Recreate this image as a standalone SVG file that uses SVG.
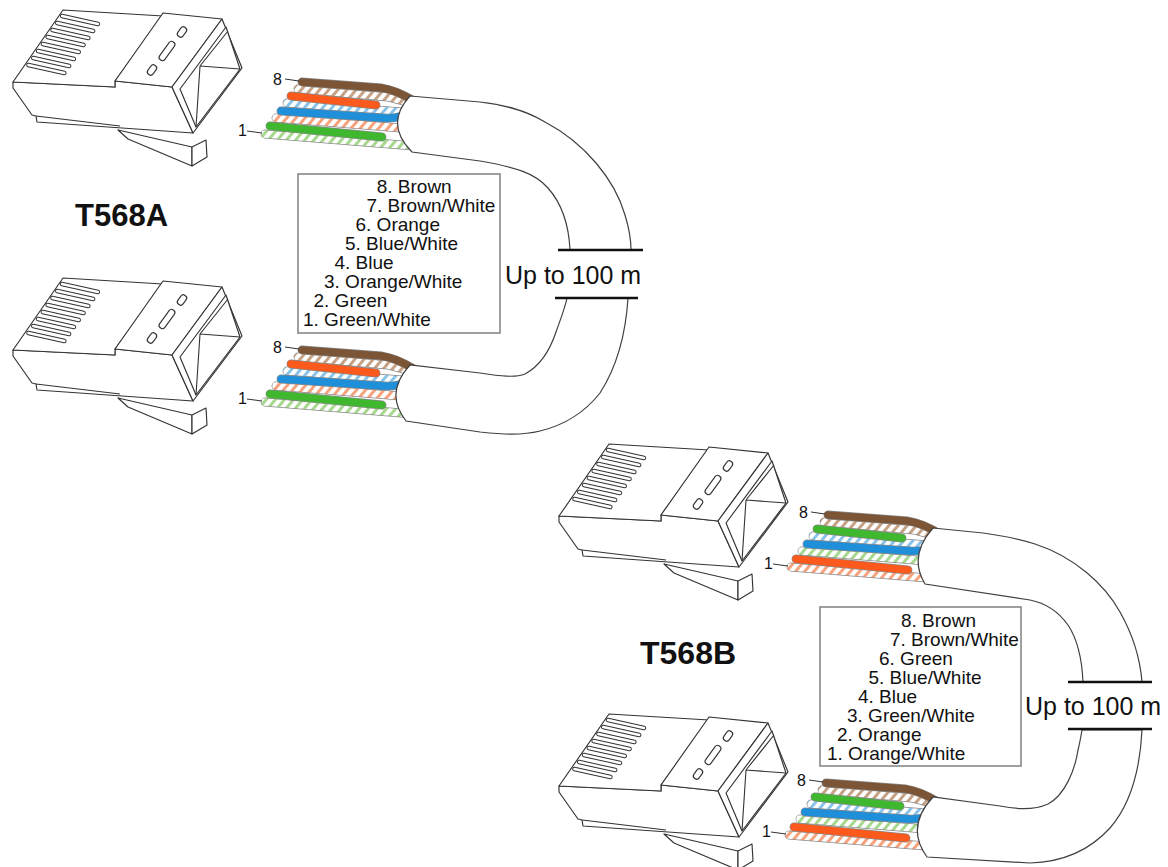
<svg xmlns="http://www.w3.org/2000/svg" xmlns:xlink="http://www.w3.org/1999/xlink" width="1168" height="867" viewBox="0 0 1168 867">
<defs>
<style>
.ln{fill:#fff;stroke:#333;stroke-width:1.15;stroke-linejoin:round}
.nf{fill:none;stroke:#333;stroke-width:1.1;stroke-linejoin:round}
.cab{fill:#fff;stroke:#404040;stroke-width:1.2}
.bar{stroke:#111;stroke-width:2.6}
.ol{fill:none;stroke:#8a8a8a;stroke-width:8.8;stroke-linecap:round;stroke-linejoin:round}
.w{fill:none;stroke-width:7.4;stroke-linecap:round;stroke-linejoin:round}
.br{stroke:#7b5535}.or{stroke:#fb5a1c}.bl{stroke:#1f8fd9}.gr{stroke:#3fb72f}
.bw{stroke:url(#sBr)}.ow{stroke:url(#sOr)}.uw{stroke:url(#sBl)}.gw{stroke:url(#sGr)}
.t{font-family:"Liberation Sans",Arial,sans-serif;fill:#111}
.lg{font-size:19px}
.pn{font-size:16px}
.ttl{font-size:31px;font-weight:bold}
.up{font-size:25px}
.lead{stroke:#333;stroke-width:1}
.box{fill:#fff;stroke:#808080;stroke-width:1.5}
</style>
<pattern id="sBr" width="7" height="7" patternUnits="userSpaceOnUse" patternTransform="rotate(40)"><rect width="7" height="7" fill="#fff"/><rect width="3" height="7" fill="#c6a184"/></pattern>
<pattern id="sOr" width="7" height="7" patternUnits="userSpaceOnUse" patternTransform="rotate(40)"><rect width="7" height="7" fill="#fff"/><rect width="3" height="7" fill="#f6a27c"/></pattern>
<pattern id="sBl" width="7" height="7" patternUnits="userSpaceOnUse" patternTransform="rotate(40)"><rect width="7" height="7" fill="#fff"/><rect width="3" height="7" fill="#8ac3ea"/></pattern>
<pattern id="sGr" width="7" height="7" patternUnits="userSpaceOnUse" patternTransform="rotate(40)"><rect width="7" height="7" fill="#fff"/><rect width="3" height="7" fill="#a6d88e"/></pattern>
<path id="strips" d="M62,16 l36,8 M57.2,23 l36,8 M52.4,30 l36,8 M47.6,37 l36,8 M42.8,44 l36,8 M38,51 l36,8 M33.2,58 l36,8 M28.4,65 l36,8"/>
<g id="plug">
 <path class="ln" d="M118,130 L192,147 L192,166 L128,139 Z"/>
 <path class="ln" d="M192,147 L206,140 L207,157 L192,166 Z"/>
 <path class="ln" d="M13,82 L115,87 L115,81 L172,87 L193,133 L37,122 L36,116 L32,115 L13,88 Z"/>
 <path class="nf" d="M36,116 L120,126"/>
 <path class="ln" d="M13,82 L63,10 L163,16 L115,81 L115,87 Z"/>
 <use xlink:href="#strips" href="#strips" fill="none" stroke="#333" stroke-width="4.4" stroke-linecap="round"/>
 <use xlink:href="#strips" href="#strips" fill="none" stroke="#fff" stroke-width="2.4" stroke-linecap="round"/>
 <path class="ln" d="M163,13 L222,19 L172,87 L115,81 Z"/>
 <g transform="translate(182,32) rotate(-54)"><rect class="ln" x="-5.5" y="-3.2" width="11" height="6.4" rx="3"/></g>
 <g transform="translate(167,51) rotate(-54)"><rect class="ln" x="-11" y="-3.2" width="22" height="6.4" rx="3"/></g>
 <g transform="translate(152,70) rotate(-54)"><rect class="ln" x="-5.5" y="-3.2" width="11" height="6.4" rx="3"/></g>
 <path class="ln" d="M172,87 L222,19 L242,68 L193,133 Z"/>
 <path class="ln" d="M180,89 L226,27 L240,69 L196,127 Z"/>
 <path class="nf" d="M200,66 L228,31 M200,66 L240,69 M200,66 L196,127"/>
</g>
<path id="p8" d="M302,82 L382,88 Q396,90 414,101"/>
<path id="p7" d="M298,89 L388,97 L414,104"/>
<path id="p6" d="M291,96 L376,105"/>
<path id="p5" d="M287,103 L414,113"/>
<path id="p4" d="M281,111 L384,118 Q398,119 414,112"/>
<path id="p3" d="M276,118 L414,129"/>
<path id="p2" d="M270,126 L382,137"/>
<path id="p1" d="M265,134 L414,146"/>
<g id="bundleA">
 <use href="#p1" xlink:href="#p1" class="ol"/><use href="#p1" xlink:href="#p1" class="w gw"/>
 <use href="#p3" xlink:href="#p3" class="ol"/><use href="#p3" xlink:href="#p3" class="w ow"/>
 <use href="#p5" xlink:href="#p5" class="ol"/><use href="#p5" xlink:href="#p5" class="w uw"/>
 <use href="#p7" xlink:href="#p7" class="ol"/><use href="#p7" xlink:href="#p7" class="w bw"/>
 <use href="#p2" xlink:href="#p2" class="ol"/><use href="#p2" xlink:href="#p2" class="w gr"/>
 <use href="#p4" xlink:href="#p4" class="ol"/><use href="#p4" xlink:href="#p4" class="w bl"/>
 <use href="#p6" xlink:href="#p6" class="ol"/><use href="#p6" xlink:href="#p6" class="w or"/>
 <use href="#p8" xlink:href="#p8" class="ol"/><use href="#p8" xlink:href="#p8" class="w br"/>
 <text class="t pn" x="273" y="85">8</text><line class="lead" x1="285" y1="79" x2="299" y2="81"/>
 <text class="t pn" x="238" y="136">1</text><line class="lead" x1="247" y1="131" x2="262" y2="133"/>
</g>
<g id="bundleB">
 <use href="#p1" xlink:href="#p1" class="ol"/><use href="#p1" xlink:href="#p1" class="w ow"/>
 <use href="#p3" xlink:href="#p3" class="ol"/><use href="#p3" xlink:href="#p3" class="w gw"/>
 <use href="#p5" xlink:href="#p5" class="ol"/><use href="#p5" xlink:href="#p5" class="w uw"/>
 <use href="#p7" xlink:href="#p7" class="ol"/><use href="#p7" xlink:href="#p7" class="w bw"/>
 <use href="#p2" xlink:href="#p2" class="ol"/><use href="#p2" xlink:href="#p2" class="w or"/>
 <use href="#p4" xlink:href="#p4" class="ol"/><use href="#p4" xlink:href="#p4" class="w bl"/>
 <use href="#p6" xlink:href="#p6" class="ol"/><use href="#p6" xlink:href="#p6" class="w gr"/>
 <use href="#p8" xlink:href="#p8" class="ol"/><use href="#p8" xlink:href="#p8" class="w br"/>
 <text class="t pn" x="273" y="85">8</text><line class="lead" x1="285" y1="79" x2="299" y2="81"/>
 <text class="t pn" x="238" y="136">1</text><line class="lead" x1="247" y1="131" x2="262" y2="133"/>
</g>
</defs>
<rect width="1168" height="867" fill="#fff"/>

<g id="plug-a-top"><use href="#plug" xlink:href="#plug"/></g>
<g id="plug-a-bottom"><use href="#plug" xlink:href="#plug" transform="translate(0,268)"/></g>
<g id="plug-b-top"><use href="#plug" xlink:href="#plug" transform="translate(546,434)"/></g>
<g id="plug-b-bottom"><use href="#plug" xlink:href="#plug" transform="translate(546,704)"/></g>

<g id="wires-a-top"><use href="#bundleA" xlink:href="#bundleA"/></g>
<g id="wires-a-bottom"><use href="#bundleA" xlink:href="#bundleA" transform="translate(0,268)"/></g>
<g id="wires-b-top"><use href="#bundleB" xlink:href="#bundleB" transform="translate(526,433)"/></g>
<g id="wires-b-bottom"><use href="#bundleB" xlink:href="#bundleB" transform="translate(524,701)"/></g>

<g id="connectors">
 <path class="cab" d="M410,96 L480,102 C505,105 525,110 545,122 C585,143 615,180 625,215 C629,228 631,240 631,250 L570,250 C569,228 563,205 548,188 C535,173 515,167 480,161 L412,152 Q384,124 410,96 Z"/>
 <path class="cab" d="M567,298 L628,298 C626,330 618,365 600,393 C585,412 565,425 540,431 C520,436 500,434 480,432 L406,421 Q384,393 410,365 L480,373 C500,376 515,378 525,374 C540,366 550,350 556,332 C561,318 565,308 567,298 Z"/>
 <path class="cab" d="M933,528 L983,533 C1005,536 1020,539 1035,544 C1075,557 1105,585 1120,612 C1133,635 1140,657 1142,682 L1083,682 C1082,660 1078,640 1068,625 C1058,611 1045,603 1030,600 L925,584 Q908,556 933,528 Z"/>
 <path class="cab" d="M1082,730 L1142,730 C1140,770 1130,805 1110,828 C1090,850 1065,862 1030,863 L927,857 Q905,827 933,797 L1000,806 C1020,810 1035,810 1048,804 C1065,795 1075,770 1078,750 C1080,742 1081,736 1082,730 Z"/>
</g>

<g id="length-a">
 <line class="bar" x1="558" y1="250" x2="643" y2="250"/>
 <line class="bar" x1="555" y1="298" x2="638" y2="298"/>
 <text class="t up" x="505" y="284">Up to 100 m</text>
</g>
<g id="length-b">
 <line class="bar" x1="1068" y1="682" x2="1152" y2="682"/>
 <line class="bar" x1="1068" y1="729" x2="1152" y2="729"/>
 <text class="t up" x="1025" y="715">Up to 100 m</text>
</g>

<g id="title-a"><text class="t ttl" x="75" y="226">T568A</text></g>
<g id="title-b"><text class="t ttl" x="640" y="664" style="font-size:32px">T568B</text></g>

<g id="legend-a">
 <rect class="box" x="298" y="174" width="202" height="159"/>
 <text class="t lg" x="376.7" y="193">8. Brown</text>
 <text class="t lg" x="366.5" y="212">7. Brown/White</text>
 <text class="t lg" x="355.5" y="231">6. Orange</text>
 <text class="t lg" x="345" y="250">5. Blue/White</text>
 <text class="t lg" x="334.5" y="269">4. Blue</text>
 <text class="t lg" x="324" y="288">3. Orange/White</text>
 <text class="t lg" x="313.5" y="307">2. Green</text>
 <text class="t lg" x="303" y="326">1. Green/White</text>
</g>
<g id="legend-b">
 <rect class="box" x="820" y="607" width="201" height="159"/>
 <text class="t lg" x="901" y="627">8. Brown</text>
 <text class="t lg" x="890" y="646">7. Brown/White</text>
 <text class="t lg" x="879" y="665">6. Green</text>
 <text class="t lg" x="868.5" y="684">5. Blue/White</text>
 <text class="t lg" x="858" y="703">4. Blue</text>
 <text class="t lg" x="847" y="722">3. Green/White</text>
 <text class="t lg" x="837" y="741">2. Orange</text>
 <text class="t lg" x="827" y="760">1. Orange/White</text>
</g>
</svg>
